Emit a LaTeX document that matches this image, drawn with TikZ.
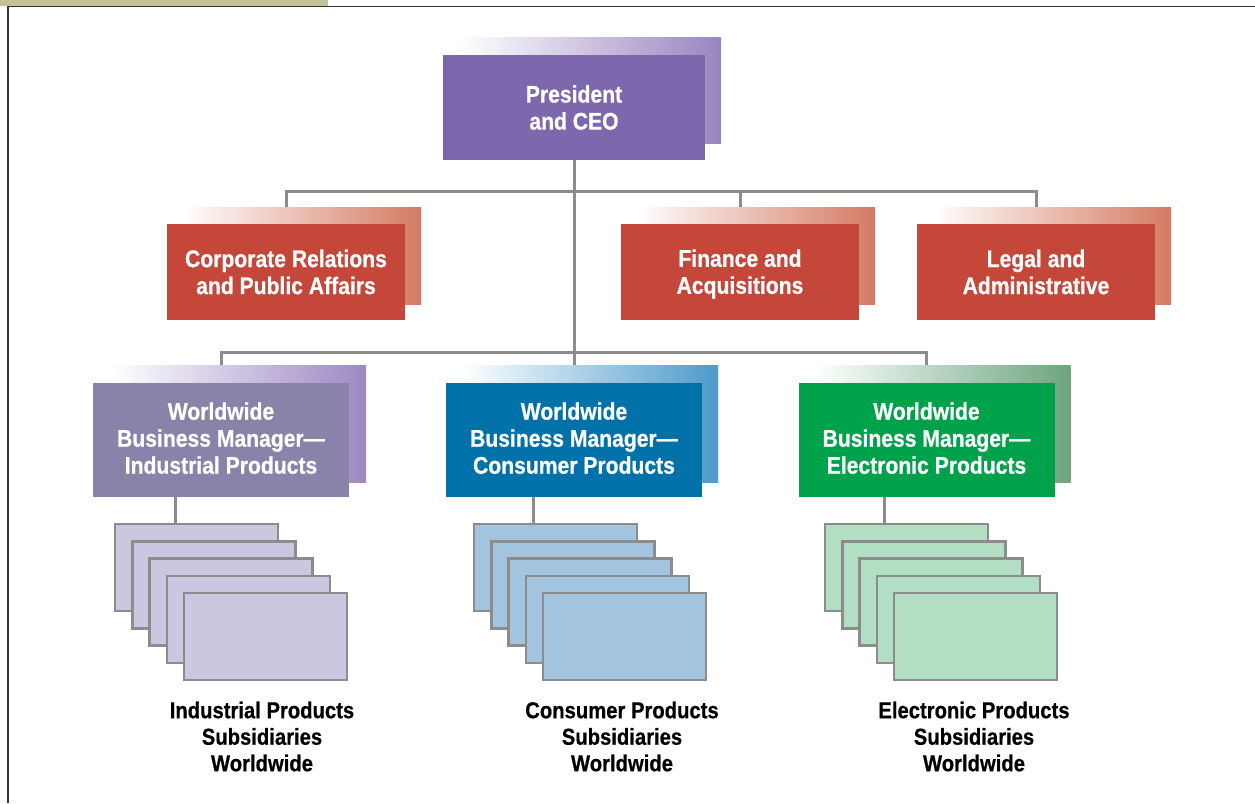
\documentclass[tikz,border=0pt]{standalone}
\usepackage{fontspec}
\setmainfont{Liberation Sans}[FakeStretch=0.88, BoldFeatures={FakeBold=0.6}]
\usetikzlibrary{calc}
\pgfdeclarelayer{background}
\pgfsetlayers{background,main}
\definecolor{tanC}{HTML}{C4C09A}
\definecolor{frameC}{HTML}{353535}
\definecolor{lineC}{HTML}{8C8C8C}
\definecolor{ceoC}{HTML}{7D68AE}
\definecolor{ceoS}{HTML}{9985C0}
\definecolor{staffC}{HTML}{C4473A}
\definecolor{staffS}{HTML}{D47A63}
\definecolor{indC}{HTML}{8A82A8}
\definecolor{indS}{HTML}{9C89C3}
\definecolor{consC}{HTML}{0071A9}
\definecolor{consS}{HTML}{4D9ACA}
\definecolor{elecC}{HTML}{00A14B}
\definecolor{elecS}{HTML}{6DA47F}
\definecolor{indF}{HTML}{CCC6E0}
\definecolor{consF}{HTML}{A3C4DE}
\definecolor{elecF}{HTML}{B2DEC4}
\newcommand\bxfont{\fontsize{24}{27}\selectfont\bfseries}
\newcommand\cpfont{\fontsize{23}{26.5}\selectfont\bfseries}
\begin{document}
\begin{tikzpicture}[x=1pt,y=-1pt,
  box/.style={rectangle, inner sep=0pt, text=white, align=center, font=\bxfont},
  staffbox/.style={box, fill=staffC, minimum width=238, minimum height=96},
  divbox/.style={box, minimum width=256, minimum height=114},
  conn/.style={draw=lineC, line width=3pt},
  stackbox/.style={rectangle, inner sep=0pt, draw=lineC, line width=2.5pt, minimum width=163, minimum height=87},
  caption/.style={align=center, font=\cpfont, text=black, inner sep=0pt}]
\useasboundingbox (0,0) rectangle (1255,803);
% frame
\fill[tanC] (0,0) rectangle (328,6);
\draw[frameC, line width=1.5pt] (8,803) -- (8,6.5) -- (1255,6.5);
% front boxes
\node[box, fill=ceoC, minimum width=262, minimum height=105] (ceo) at (574,107.5) {President\\and CEO};
\node[staffbox] (corp) at (286,272) {Corporate Relations\\and Public Affairs};
\node[staffbox] (fin) at (740,272) {\rule{0pt}{21.5pt}Finance and\\Acquisitions};
\node[staffbox] (legal) at (1036,272) {Legal and\\Administrative};
\node[divbox, fill=indC] (ind) at (221,440) {Worldwide\\Business Manager---\\Industrial Products\rule[-4pt]{0pt}{0pt}};
\node[divbox, fill=consC] (cons) at (574,440) {Worldwide\\Business Manager---\\Consumer Products\rule[-4pt]{0pt}{0pt}};
\node[divbox, fill=elecC] (elec) at (926.5,440) {Worldwide\\Business Manager---\\Electronic Products\rule[-4pt]{0pt}{0pt}};
% subsidiary stacks
\foreach \i in {0,...,4} {
  \node[stackbox, fill=indF] (indst\i) at (196.5+17.25*\i, 567.5+17.25*\i) {};
  \node[stackbox, fill=consF] (consst\i) at (555.5+17.25*\i, 567.5+17.25*\i) {};
  \node[stackbox, fill=elecF] (elecst\i) at (906.5+17.25*\i, 567.5+17.25*\i) {};
}
% captions
\node[caption] (indcap) at (262,736.5) {Industrial Products\\Subsidiaries\\Worldwide};
\node[caption] (conscap) at (622,736.5) {Consumer Products\\Subsidiaries\\Worldwide};
\node[caption] (eleccap) at (974,736.5) {Electronic Products\\Subsidiaries\\Worldwide};
\coordinate (bus1) at (574,191);
\coordinate (bus2) at (574,352);
\path ([xshift=62pt]indst0.north west) coordinate (indtap);
\path ([xshift=61pt]consst0.north west) coordinate (constap);
\path ([xshift=61pt]elecst0.north west) coordinate (electap);
\begin{pgfonlayer}{background}
  % connectors
  \draw[conn] (corp.north) -- (corp.north |- bus1) -- (legal.north |- bus1) -- (legal.north);
  \draw[conn] (fin.north |- bus1) -- (fin.north);
  \draw[conn] (ceo.south) -- (cons.north);
  \draw[conn] (ind.north) -- (ind.north |- bus2) -- (elec.north |- bus2) -- (elec.north);
  \draw[conn] (indtap |- ind.south) -- (indtap);
  \draw[conn] (constap |- cons.south) -- (constap);
  \draw[conn] (electap |- elec.south) -- (electap);
  % gradient shadows
  \shade[left color=white, right color=ceoS] ($(ceo.north west)+(16,-17)$) rectangle ($(ceo.south east)+(16,-17)$);
  \foreach \b in {corp,fin,legal}
    \shade[left color=white, right color=staffS] ($(\b.north west)+(16,-16)$) rectangle ($(\b.south east)+(16,-16)$);
  \shade[left color=white, right color=indS] ($(ind.north west)+(17,-17)$) rectangle ($(ind.south east)+(17,-15)$);
  \shade[left color=white, right color=consS] ($(cons.north west)+(16,-17)$) rectangle ($(cons.south east)+(16,-15)$);
  \shade[left color=white, right color=elecS] ($(elec.north west)+(16,-17)$) rectangle ($(elec.south east)+(16,-15)$);
\end{pgfonlayer}
\end{tikzpicture}
\end{document}
